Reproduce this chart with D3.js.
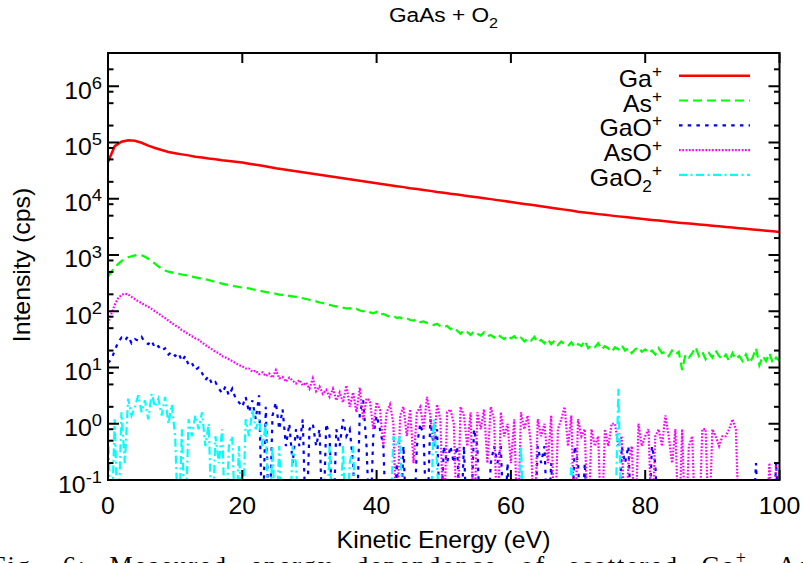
<!DOCTYPE html>
<html>
<head>
<meta charset="utf-8">
<script src="https://cdn.jsdelivr.net/npm/d3@7"></script>
<style>
body { margin: 0; background: #fff; }
svg { display: block; }
text { font-family: "Liberation Sans", Arial, sans-serif; fill: #000; }
.caption { font-family: "Liberation Serif", "Times New Roman", serif; }
</style>
</head>
<body>
<svg id="chart" width="803" height="563"></svg>
<script>
// energy grids (eV): Ga+ read every 1 eV, the others every 0.5 eV
const energyCoarse = d3.range(0, 100.001, 1)
const energyFine = d3.range(0, 100.001, 0.5)

// Ga+ intensity (cps), 0..100 eV step 1
const gaPlus = [
  45000, 86000, 103000, 110000, 107000, 99000, 88000, 80000, 73500, 68000,
  64500, 61500, 59000, 56000, 54000, 52000, 50500, 48500, 47000, 45500,
  44000, 42000, 40300, 38500, 36800, 35000, 33600, 32100, 30800, 29500,
  28400, 27300, 26200, 25100, 24100, 23100, 22200, 21300, 20500, 19600,
  18800, 18100, 17400, 16700, 16100, 15400, 14900, 14300, 13800, 13200,
  12800, 12300, 11900, 11400, 11000, 10600, 10200, 9850, 9450, 9100,
  8750, 8400, 8100, 7800, 7500, 7220, 6940, 6670, 6410, 6160,
  5900, 5700, 5500, 5330, 5170, 5010, 4860, 4720, 4580, 4450,
  4320, 4200, 4090, 3980, 3870, 3760, 3670, 3580, 3490, 3400,
  3310, 3230, 3150, 3070, 2990, 2920, 2850, 2780, 2710, 2640,
  2570
]

// As+ intensity, 0..100 eV step 0.5
const asPlus = [
  410, 500, 600, 690, 780, 850, 910, 950, 985, 1000,
  990, 930, 860, 780, 700, 630, 570, 530, 505, 490,
  470, 462, 450, 440, 425, 412, 400, 390, 380, 370,
  360, 345, 332, 320, 310, 300, 292, 285, 276, 270,
  265, 258, 255, 246, 240, 232, 226, 220, 214, 212,
  205, 198, 195, 192, 188, 184, 180, 176, 170, 165,
  160, 154, 150, 143, 140, 134, 130, 125, 122, 118,
  116, 112, 114, 108, 110, 103, 100, 104, 96, 92,
  98, 86, 90, 84, 80, 83, 76, 78, 72, 75,
  70, 68, 72, 64, 66, 62, 60, 57, 60, 54,
  52, 55, 48, 52, 45, 40, 46, 43, 38, 44,
  40, 37, 42, 36, 38, 34, 39, 35, 32, 37,
  33, 36, 31, 34, 29, 33, 30, 35, 28, 31,
  27, 32, 26, 30, 25, 29, 26, 24, 28, 23,
  26, 24, 30, 22, 25, 23, 27, 21, 24, 22,
  19, 23, 21, 25, 20, 22, 18, 21, 23, 19,
  21, 18, 20, 17, 22, 18, 19, 16, 20, 17,
  19, 9, 17, 15, 18, 23, 16, 19, 14, 18,
  15, 20, 16, 14, 17, 13, 18, 14, 16, 13,
  17, 12, 15, 22, 11, 16, 13, 18, 12, 15,
  13
]

// GaO+ intensity, 0..100 eV step 0.5
const gaoPlus = [
  12, 14, 20, 28, 34, 30, 36, 27, 32, 30,
  35, 28, 26, 30, 22, 24, 20, 22, 17, 19,
  16, 18, 13, 16, 11, 12, 9, 10, 8, 6,
  7, 5, 5.5, 4.2, 3.5, 4.6, 3.2, 4.2, 2.8, 2.4,
  2.0, 3.0, 1.6, 2.6, 1.2, 3.2, 0, 2.0, 0, 1.4,
  2.4, 0.8, 1.8, 0.4, 1.0, 0.2, 0.8, 0.4, 1.2, 0,
  0.8, 1.0, 0.4, 0.8, 0, 1.0, 0.6, 0, 0.8, 0.4,
  1.2, 0.6, 0.8, 0.2, 0, 1.6, 2.6, 0.4, 0, 0.6,
  1.4, 0.8, 0.4, 0, 0, 0, 0.2, 0, 0.4, 0,
  0, 0, 0.4, 1.0, 0.6, 0, 1.2, 0.4, 0.8, 0,
  0.4, 0.2, 0.4, 0.2, 0.4, 0, 0.4, 0, 0, 0.8,
  0.4, 0, 0, 0, 0.2, 0.4, 0.2, 0.4, 0, 0.2,
  0, 0, 0, 0, 0, 0, 0, 0, 0.4, 0.2,
  0.4, 0, 0.2, 0, 0, 0, 0, 0, 0, 0.4,
  0.2, 0, 0.2, 0, 0, 0, 0, 0, 0, 0,
  0, 0, 0, 0.4, 0.2, 0.4, 0, 0, 0, 0,
  0, 0, 0.4, 0.2, 0, 0, 0, 0, 0, 0,
  0, 0, 0, 0, 0, 0, 0, 0, 0, 0,
  0, 0, 0, 0, 0, 0, 0, 0, 0, 0,
  0, 0, 0, 0.2, 0, 0, 0, 0, 0, 0.2,
  0
]

// AsO+ intensity, 0..100 eV step 0.5
const asoPlus = [
  60, 90, 130, 170, 195, 205, 200, 180, 165, 150,
  140, 128, 120, 110, 100, 92, 82, 76, 68, 62,
  56, 52, 46, 43, 39, 36, 33, 31, 28, 25,
  23, 21, 19, 18, 16, 15, 14, 13, 12, 11,
  10.5, 9.6, 9.6, 8.4, 8.8, 7.6, 8.2, 7.0, 7.8, 6.6,
  9.0, 6.4, 6.8, 5.6, 6.6, 5.8, 5.2, 6.0, 4.8, 5.4,
  4.2, 6.4, 3.8, 4.6, 3.4, 4.0, 3.0, 4.2, 2.6, 3.6,
  2.4, 4.8, 2.0, 3.6, 1.6, 4.4, 1.2, 2.8, 2.6, 0.8,
  2.4, 1.8, 0.4, 1.6, 2.2, 1.0, 0, 1.4, 2.0, 0.6,
  1.8, 0.2, 1.6, 2.0, 0.8, 3.0, 1.4, 0.4, 2.2, 1.2,
  0, 1.6, 1.8, 1.0, 0, 2.0, 1.4, 0.4, 1.6, 0,
  1.6, 0.8, 1.8, 0.2, 2.0, 1.2, 0, 1.6, 0.6, 1.0,
  0.2, 1.2, 0, 1.6, 0.8, 1.4, 0.4, 0, 1.2, 0.6,
  1.0, 0.2, 1.4, 0, 0.8, 1.2, 2.0, 0.4, 1.4, 0,
  1.2, 0.6, 0.8, 0, 0.8, 0.4, 0.6, 0, 0.8, 0.4,
  1.0, 1.0, 0.4, 0.6, 0, 0.2, 0.4, 0, 1.0, 0.4,
  0.6, 0.8, 0, 0.6, 0.8, 0.4, 1.4, 0.6, 0.2, 0.8,
  0, 0.8, 0, 0.4, 0.6, 0, 0, 0.8, 0.8, 0,
  0.8, 0.6, 0.4, 0.6, 0.6, 0.8, 1.2, 0.8, 0, 0,
  0, 0, 0, 0, 0, 0, 0, 0.2, 0, 0.2,
  0.2
]

// GaO2+ intensity, 0..100 eV step 0.5
const gao2Plus = [
  0.8, 0, 1.2, 0, 1.6, 0.2, 2.8, 1.4, 2.0, 3.2,
  1.6, 2.6, 1.2, 3.4, 2.0, 2.8, 1.4, 3.0, 1.0, 2.2,
  0.6, 0, 0.8, 0, 1.2, 0.6, 1.4, 0.8, 1.6, 0.4,
  1.0, 0, 0.6, 0.2, 0.8, 0, 0.4, 0.6, 0, 0.4,
  0, 1.2, 0.6, 1.8, 0.8, 1.2, 0.4, 1.0, 0, 0.4,
  0, 0.4, 0, 0, 0, 0.4, 0.2, 0, 0, 0,
  0, 0, 0, 0, 0, 0, 0.4, 0, 0, 0,
  0.4, 0, 0.2, 0.4, 0, 0, 0, 0, 0, 0,
  0, 0, 0, 0, 0, 0.6, 0.4, 0.6, 0, 0,
  0, 0, 0, 0, 0, 0, 0, 1.2, 0.2, 0,
  0, 0, 0, 0, 0, 0, 0, 0, 0, 0,
  0, 0, 0, 0, 0, 0, 0, 0, 0, 0,
  0, 0, 0, 0.4, 0, 0, 0, 0, 0, 0,
  0, 0, 0, 0, 0, 0, 0, 0, 0.2, 0,
  0, 0, 0, 0, 0, 0, 0, 0, 0, 0,
  0, 0, 4.2, 0, 0, 0, 0, 0, 0, 0,
  0, 0, 0, 0, 0, 0, 0, 0, 0, 0,
  0, 0, 0, 0, 0, 0, 0, 0, 0, 0,
  0, 0, 0, 0, 0, 0, 0, 0, 0, 0,
  0, 0, 0, 0, 0, 0, 0, 0, 0, 0,
  0
]

const xTicks = [0, 20, 40, 60, 80, 100]
const yExponents = [-1, 0, 1, 2, 3, 4, 5, 6]
const yMinorMult = [2, 5, 8]
const legendMain = ['Ga', 'As', 'GaO', 'AsO', 'GaO']
const legendSub = ['', '', '', '', '2']

// styles
const colors = ['#ff0000', '#00ff00', '#0000ff', '#ff00ff', '#00ffff']
const dashes = [null, '9,5', '3.5,5.2', '1.7,1.6', '8,3.5,2,3.5']

const svg = d3.select('#chart')
const pLeft = 108, pRight = 779.5, pTop = 53, pBottom = 480
const x = d3.scaleLinear().domain([0, 100]).range([pLeft, pRight])
const y = d3.scaleLog().domain([0.1, 3.9e6]).range([pBottom, pTop])
const sx = 1.08  // the original lettering is a bit wide

function stretched(g, px, py, extra) {
    return g.append('text')
        .attr('transform', 'translate(' + px + ',' + py + ')' + (extra || '') + ' scale(' + sx + ',1)')
}

svg.append('defs').append('clipPath').attr('id', 'plotclip')
    .append('rect')
    .attr('x', pLeft).attr('y', pTop)
    .attr('width', pRight - pLeft).attr('height', pBottom - pTop)

// data
const series = [
    {xs: energyCoarse, ys: gaPlus},
    {xs: energyFine, ys: asPlus},
    {xs: energyFine, ys: gaoPlus},
    {xs: energyFine, ys: asoPlus},
    {xs: energyFine, ys: gao2Plus}
]
const line = d3.line()
    .x(d => x(d[0]))
    .y(d => y(Math.max(d[1], 0.01)))

const plot = svg.append('g').attr('clip-path', 'url(#plotclip)')
series.forEach((s, i) => {
    plot.append('path')
        .datum(s.xs.map((e, k) => [e, s.ys[k]]))
        .attr('d', line)
        .attr('fill', 'none')
        .attr('stroke', colors[i])
        .attr('stroke-width', i == 0 ? 2.5 : 2.2)
        .attr('stroke-dasharray', dashes[i])
})

// frame + ticks
const axes = svg.append('g').attr('stroke', '#000').attr('stroke-width', 2)
axes.append('rect')
    .attr('x', pLeft).attr('y', pTop)
    .attr('width', pRight - pLeft).attr('height', pBottom - pTop)
    .attr('fill', 'none')

let yMajor = yExponents.map(d => Math.pow(10, d))
let yMinor = []
yExponents.forEach(d => yMinorMult.forEach(m => {
    let v = m * Math.pow(10, d)
    if (v < y.domain()[1]) yMinor.push(v)
}))

function yTicks(vals, len) {
    axes.selectAll(null).data(vals).enter().append('line')
        .attr('x1', pLeft).attr('x2', pLeft + len)
        .attr('y1', d => y(d)).attr('y2', d => y(d))
    axes.selectAll(null).data(vals).enter().append('line')
        .attr('x1', pRight).attr('x2', pRight - len)
        .attr('y1', d => y(d)).attr('y2', d => y(d))
}
yTicks(yMajor, 11)
yTicks(yMinor, 5.5)

axes.selectAll(null).data(xTicks).enter().append('line')
    .attr('x1', d => x(d)).attr('x2', d => x(d))
    .attr('y1', pBottom).attr('y2', pBottom - 10)
axes.selectAll(null).data(xTicks).enter().append('line')
    .attr('x1', d => x(d)).attr('x2', d => x(d))
    .attr('y1', pTop).attr('y2', pTop + 10)

// tick labels
const labels = svg.append('g')
yExponents.forEach(d => {
    let t = stretched(labels, 102, y(Math.pow(10, d)) + 12.5)
        .attr('text-anchor', 'end')
        .style('font-size', '23px')
    t.append('tspan').text('10')
    t.append('tspan').attr('dy', -10).style('font-size', '17px').text(String(d))
})
xTicks.forEach(d => {
    stretched(labels, x(d), 513.5)
        .attr('text-anchor', 'middle')
        .style('font-size', '23px')
        .text(d)
})

// titles
let title = stretched(svg, 443.5, 21.7).attr('text-anchor', 'middle').style('font-size', '21px')
title.append('tspan').text('GaAs + O')
title.append('tspan').attr('dy', 6).style('font-size', '15px').text('2')

stretched(svg, 443.5, 548).attr('text-anchor', 'middle').style('font-size', '23px')
    .text('Kinetic Energy (eV)')
stretched(svg, 29.5, 265, ' rotate(-90)').attr('text-anchor', 'middle').style('font-size', '23px')
    .text('Intensity (cps)')

// legend
const legend = svg.append('g')
legendMain.forEach((name, i) => {
    let ly = 75.7 + i * 24.8
    legend.append('line')
        .attr('x1', 679).attr('x2', 750)
        .attr('y1', ly).attr('y2', ly)
        .attr('stroke', colors[i])
        .attr('stroke-width', i == 0 ? 2.5 : 2.2)
        .attr('stroke-dasharray', dashes[i])
    let t = stretched(legend, 662, ly + 11).attr('text-anchor', 'end').style('font-size', '23px')
    t.append('tspan').text(name)
    if (legendSub[i]) {
        t.append('tspan').attr('dy', 6).style('font-size', '16px').text(legendSub[i])
        t.append('tspan').attr('dy', -16).style('font-size', '16px').text('+')
    } else {
        t.append('tspan').attr('dy', -10).style('font-size', '16px').text('+')
    }
})

// caption of the page below, cut by the picture edge
let cap = svg.append('text').attr('class', 'caption')
    .attr('x', -9).attr('y', 574)
    .style('font-size', '26px')
    .style('letter-spacing', '2px')
    .style('word-spacing', '14px')
cap.append('tspan').text('Fig. 6: Measured energy dependence of scattered Ga')
cap.append('tspan').attr('dy', -10).style('font-size', '18px').text('+')
cap.append('tspan').attr('dy', 10).text(', As')
cap.append('tspan').attr('dy', -10).style('font-size', '18px').text('+')
cap.append('tspan').attr('dy', 10).text(', GaO')
</script>
</body>
</html>
